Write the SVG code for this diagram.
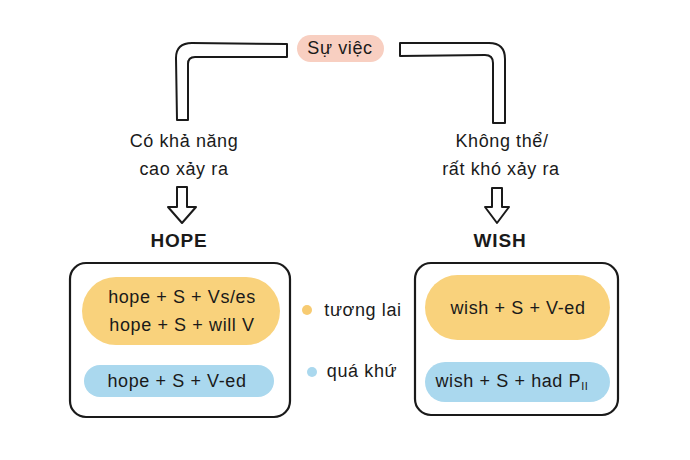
<svg xmlns="http://www.w3.org/2000/svg" width="690" height="460" viewBox="0 0 690 460">
<style>
.t{font-family:"Liberation Sans","DejaVu Sans",sans-serif;fill:#1a1a1a;text-anchor:middle}
.lbl{font-size:18px;letter-spacing:0.6px}
.f{font-size:18px;letter-spacing:0.6px}
.h{font-size:19px;font-weight:bold;letter-spacing:0.8px}
.ln{fill:none;stroke:#1a1a1a;stroke-width:2;stroke-linejoin:round;stroke-linecap:round}
.box{fill:#fff;stroke:#1a1a1a;stroke-width:2.2}
.or{fill:#F9D27C}
.bl{fill:#AAD8EE}
</style>
<rect width="690" height="460" fill="#fff"/>
<g id="su-viec">
<rect x="297" y="35" width="87" height="27" rx="13.5" fill="#F8CFC1"/>
<text class="t lbl" x="340" y="54">Sự việc</text>
</g>
<g id="connectors">
<path class="ln" d="M287,44 L192,43 Q176,43 176,58 L177,120 L188,120 L188,64 Q188,57 195,57 L287,57 Z"/>
<path class="ln" d="M400,43 L489,43 Q505,43 505,59 L505,123 L493,123 L493,63 Q493,55 485,55 L400,56 Z"/>
<path class="ln" d="M177,187 L187,187 L187,207 L196,207 L182,223 L168,207 L177,207 Z"/>
<path class="ln" d="M492,188 L502,188 L502,207 L509,207 L497,223 L485,207 L492,207 Z"/>
</g>
<g id="hope-cond">
<text class="t lbl" x="184" y="147">Có khả năng</text>
<text class="t lbl" x="184" y="175">cao xảy ra</text>
</g>
<g id="wish-cond">
<text class="t lbl" x="502" y="147">Không thể/</text>
<text class="t lbl" x="501" y="175">rất khó xảy ra</text>
</g>
<g id="hope">
<text class="t h" x="179" y="247">HOPE</text>
</g>
<g id="wish">
<text class="t h" x="500" y="247">WISH</text>
</g>
<g id="hope-box">
<rect class="box" x="70" y="263" width="220" height="154" rx="16"/>
<rect class="or" x="82" y="277" width="198" height="68" rx="34"/>
<text class="t f" x="182" y="303">hope + S + Vs/es</text>
<text class="t f" x="182" y="331">hope + S + will V</text>
<rect class="bl" x="84" y="365" width="190" height="32" rx="16"/>
<text class="t f" x="177" y="387">hope + S + V-ed</text>
</g>
<g id="wish-box">
<rect class="box" x="415" y="263" width="203" height="152" rx="16"/>
<rect class="or" x="425" y="275" width="185" height="65" rx="32.5"/>
<text class="t f" x="518" y="314">wish + S + V-ed</text>
<rect class="bl" x="425" y="362" width="185" height="40" rx="20"/>
<text class="t f" x="512" y="387">wish + S + had P<tspan font-size="11" dy="3">II</tspan></text>
</g>
<g id="legend">
<circle cx="307" cy="310" r="5" fill="#F7CB72"/>
<text class="t lbl" x="363" y="316">tương lai</text>
<circle cx="312" cy="372" r="5" fill="#AAD8EE"/>
<text class="t lbl" x="362" y="377">quá khứ</text>
</g>
</svg>
